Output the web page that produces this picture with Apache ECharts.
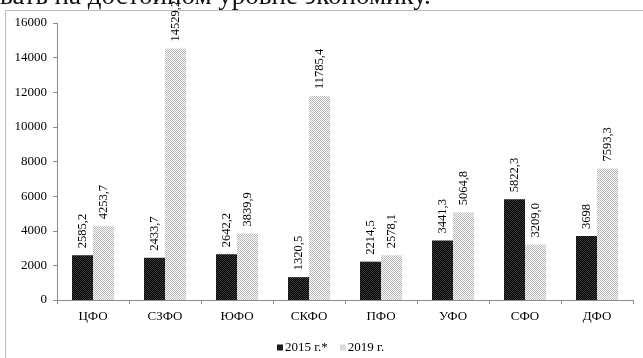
<!DOCTYPE html>
<html><head><meta charset="utf-8">
<script src="https://cdn.jsdelivr.net/npm/echarts@6/dist/echarts.min.js"></script>
<style>html,body{margin:0;padding:0;background:#fff}#c{width:643px;height:358px}</style>
</head><body><div id="c"></div>
<script>
const categories = ['ЦФО','СЗФО','ЮФО','СКФО','ПФО','УФО','СФО','ДФО'];
const values2015 = [2585.2, 2433.7, 2642.2, 1320.5, 2214.5, 3441.3, 5822.3, 3698];
const values2019 = [4253.7, 14529.2, 3839.9, 11785.4, 2578.1, 5064.8, 3209.0, 7593.3];
const labels2015 = ['2585,2','2433,7','2642,2','1320,5','2214,5','3441,3','5822,3','3698'];
const labels2019 = ['4253,7','14529,2','3839,9','11785,4','2578,1','5064,8','3209,0','7593,3'];
const seriesNames = ['2015 г.*','2019 г.'];

function pattern(a, b) {
  const c = document.createElement('canvas');
  c.width = 2; c.height = 2;
  const x = c.getContext('2d');
  x.fillStyle = a; x.fillRect(0,0,2,2);
  x.fillStyle = b; x.fillRect(0,0,1,1); x.fillRect(1,1,1,1);
  return {image: c, repeat: 'repeat'};
}
const darkFill = pattern('#000000', '#3a3a3a');
const lightFill = pattern('#ffffff', '#b8b8b8');

const font = '"Liberation Serif", "Times New Roman", serif';
const chart = echarts.init(document.getElementById('c'));
const lab = (arr) => ({show: true, position: 'top', rotate: 90, distance: 7, align: 'left', verticalAlign: 'middle',
  fontFamily: font, fontSize: 12.5, color: '#000', formatter: p => arr[p.dataIndex]});
chart.setOption({
  animation: false,
  graphic: [
    {type: 'rect', shape: {x: 5.5, y: 10.5, width: 640, height: 360}, style: {fill: 'none', stroke: '#bdbdbd', lineWidth: 1}},
    {type: 'text', left: 0, top: -17, style: {text: 'вать на достойном уровне экономику.', font: '27px "Liberation Serif", serif', fill: '#111'}}
  ],
  grid: {left: 57, right: 10, top: 23, bottom: 58},
  legend: {
    top: 336, left: 272, itemWidth: 6, itemHeight: 6, itemGap: 12,
    icon: 'rect',
    textStyle: {fontFamily: font, fontSize: 13, color: '#000', padding: [0,0,0,-3]},
    data: seriesNames
  },
  xAxis: {
    type: 'category', data: categories,
    axisLine: {lineStyle: {color: '#8c8c8c'}},
    axisTick: {show: true, length: 4, lineStyle: {color: '#8c8c8c'}, alignWithLabel: false},
    axisLabel: {fontFamily: font, fontSize: 13, color: '#000', margin: 10}
  },
  yAxis: {
    type: 'value', min: 0, max: 16000, interval: 2000,
    axisLine: {show: true, lineStyle: {color: '#8c8c8c'}},
    axisTick: {show: true, length: 4, lineStyle: {color: '#8c8c8c'}},
    splitLine: {show: false},
    axisLabel: {fontFamily: font, fontSize: 13, color: '#000', margin: 10, formatter: v => String(v)}
  },
  series: [
    {name: seriesNames[0], type: 'bar', data: values2015, barWidth: 21, barGap: '0%',
     itemStyle: {color: darkFill}, label: lab(labels2015)},
    {name: seriesNames[1], type: 'bar', data: values2019, barWidth: 21, barGap: '0%',
     itemStyle: {color: lightFill}, label: lab(labels2019)}
  ]
});
</script></body></html>
